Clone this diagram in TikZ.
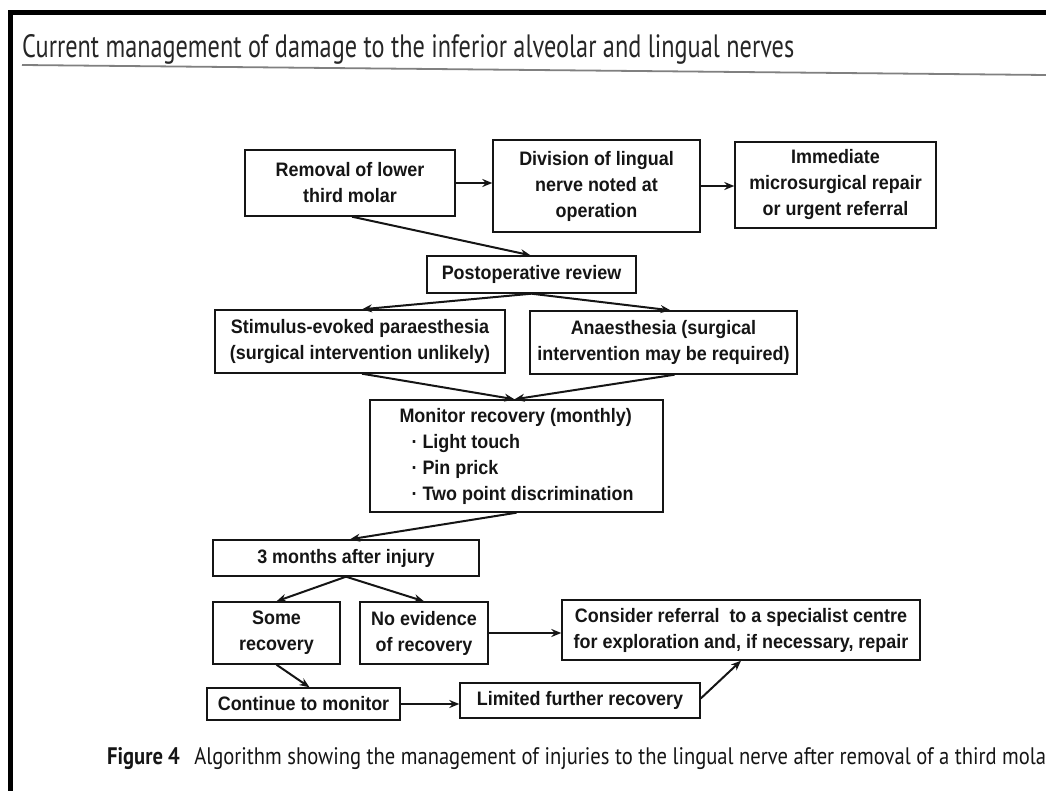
\documentclass[tikz,border=0pt]{standalone}
\usepackage{fontspec}
\usepackage{graphicx}
\setmainfont{Liberation Sans}
\newfontfamily\boxfont[FakeStretch=0.92]{Liberation Sans}
\newfontfamily\headfont{PT Sans}
\usetikzlibrary{arrows.meta,calc}
\definecolor{ink}{HTML}{151515}
\begin{document}
\begin{tikzpicture}[x=1pt,y=-1pt,
  box/.style={draw=ink, line width=1.4pt, inner sep=0pt, align=center,
    font=\boxfont\bfseries\fontsize{19.5}{26}\selectfont, text=ink},
  arr/.style={line width=2pt, draw=ink, -{Stealth[length=10pt,width=8pt]}},
  frame/.style={line width=5pt, draw=black},
  rule/.style={line width=1.8pt, draw=black!50}]
\useasboundingbox (0,0) rectangle (1046,791);
% frame and header
\draw[frame] (10.5,791) -- (10.5,12.5) -- (1046,12.5);
\node[anchor=base west, inner sep=0pt, text=black!85] (title) at (22,58)
  {\resizebox{772pt}{23pt}{\headfont Current management of damage to the inferior alveolar and lingual nerves}};
\draw[rule] (22,65) -- (1046,75);
% boxes
\node[box, minimum width=210pt, minimum height=66pt] (A) at (350,183) {Removal of lower\\third molar};
\node[box, minimum width=207pt, minimum height=92pt] (B) at (596.5,186) {Division of lingual\\nerve noted at\\operation};
\node[box, minimum width=201pt, minimum height=86pt] (C) at (835.5,185) {Immediate\\microsurgical repair\\or urgent referral};
\node[box, minimum width=209pt, minimum height=37pt] (P) at (531.5,274.5) {Postoperative review};
\node[box, minimum width=290pt, minimum height=63pt] (S) at (360,341.5) {Stimulus-evoked paraesthesia\\(surgical intervention unlikely)};
\node[box, minimum width=267pt, minimum height=63pt] (N) at (663.5,342.5) {Anaesthesia (surgical\\intervention may be required)};
\node[box, minimum width=293pt, minimum height=112pt, align=left] (M) at (516.5,456)
  {Monitor recovery (monthly)\\\hspace*{12pt}·\hspace{5pt}Light touch\\\hspace*{12pt}·\hspace{5pt}Pin prick\\\hspace*{12pt}·\hspace{5pt}Two point discrimination};
\node[box, minimum width=266pt, minimum height=36pt] (T) at (346,558) {3 months after injury};
\node[box, minimum width=127pt, minimum height=62pt] (SR) at (276.5,633) {Some\\recovery};
\node[box, minimum width=128pt, minimum height=62pt] (NE) at (424,633) {No evidence\\of recovery};
\node[box, minimum width=358pt, minimum height=60pt] (R) at (741,630) {Consider referral\ \ to a specialist centre\\for exploration and, if necessary, repair};
\node[box, minimum width=193pt, minimum height=32pt] (CM) at (303.5,704) {Continue to monitor};
\node[box, minimum width=240pt, minimum height=35pt] (L) at (580,700.5) {Limited further recovery};
% connectors
\draw[arr] (A.east) -- (A.east -| B.west);
\draw[arr] (B.east) -- (B.east -| C.west);
\draw[arr] ($(A.south)+(2,0)$) -- ($(P.north)+(-1,0)$);
\draw[arr] (P.south) -- ($(S.north)+(2,0)$);
\draw[arr] (P.south) -- ($(N.north)+(7,0)$);
\draw[arr] ($(S.south)+(2,0)$) -- ($(M.north)+(-2,0)$);
\draw[arr] ($(N.south)+(11,0)$) -- ($(M.north)+(-2,0)$);
\draw[arr] (M.south) -- ($(T.north)+(4,0)$);
\draw[arr] (T.south) -- (SR.north);
\draw[arr] (T.south) -- (NE.north);
\draw[arr] (NE.east) -- (NE.east -| R.west);
\draw[arr] (SR.south) -- ($(CM.north)+(6,0)$);
\draw[arr] (CM.east) -- (CM.east -| L.west);
\draw[arr] ($(L.east)+(0,-2)$) -- (R.south);
% caption
\node[anchor=base west, inner sep=0pt, text=ink] (cap) at (107,764)
  {\resizebox{939pt}{17pt}{\headfont\textbf{Figure 4}\hspace{0.7em}Algorithm showing the management of injuries to the lingual nerve after removal of a third mola}};
\end{tikzpicture}
\end{document}
